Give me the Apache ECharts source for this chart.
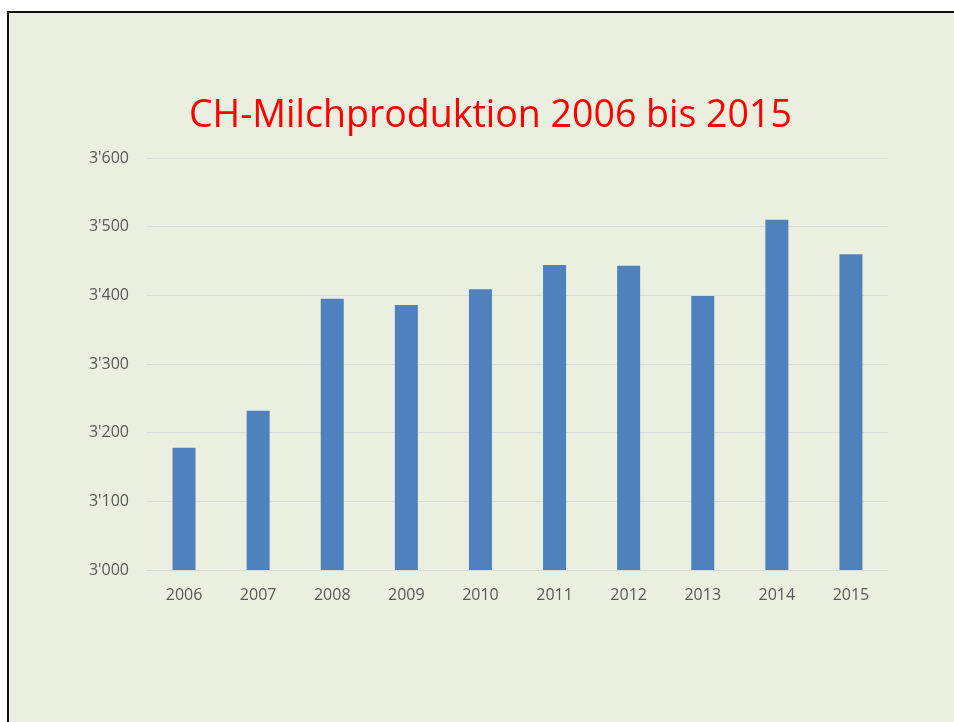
<!DOCTYPE html>
<html>
<head>
<meta charset="utf-8">
<script src="https://cdn.jsdelivr.net/npm/echarts@6/dist/echarts.min.js"></script>
<style>
  html, body { margin: 0; padding: 0; background: #fff; overflow: hidden; }
  .frame {
    position: absolute; left: 7px; top: 11px; width: 960px; height: 730px;
    border: 2px solid #111; background: #EBEFDF;
  }
  .chart { position: absolute; left: 0; top: 0; width: 954px; height: 722px; }
</style>
</head>
<body>
<div class="frame"></div>
<div class="chart" id="main"></div>
<script>
const years = ["2006", "2007", "2008", "2009", "2010", "2011", "2012", "2013", "2014", "2015"];
const production = [3178, 3232, 3395, 3386, 3409, 3444, 3443, 3399, 3510, 3460];
const yTicks = [3000, 3100, 3200, 3300, 3400, 3500, 3600];

const chart = echarts.init(document.getElementById("main"));
const option = {
  backgroundColor: "transparent",
  title: {
    text: "CH-Milchproduktion 2006 bis 2015",
    left: 184,
    top: 92,
    textStyle: {
      color: "#FF0000",
      fontSize: 37.5,
      fontWeight: "normal",
      fontFamily: "Open Sans",
    },
  },
  grid: {
    left: 147,
    right: 66,
    top: 158,
    bottom: 152,
  },
  xAxis: {
    type: "category",
    data: years,
    axisTick: { show: false },
    axisLine: { lineStyle: { color: "#D9D9D9", width: 1 } },
    axisLabel: {
      color: "#595959",
      fontSize: 16,
      fontFamily: "Open Sans",
      margin: 17,
    },
  },
  yAxis: {
    type: "value",
    min: yTicks[0],
    max: yTicks[yTicks.length - 1],
    interval: 100,
    axisLine: { show: false },
    axisTick: { show: false },
    axisLabel: {
      color: "#595959",
      fontSize: 16,
      fontFamily: "Open Sans",
      margin: 18,
      formatter: (v) => String(v).replace(/\B(?=(\d{3})+(?!\d))/g, "'"),
    },
    splitLine: { lineStyle: { color: "#D9D9D9", width: 1 } },
  },
  series: [
    {
      type: "bar",
      data: production,
      barWidth: 23,
      itemStyle: { color: "#4F81BD" },
    },
  ],
};
chart.setOption(option);
</script>
</body>
</html>
